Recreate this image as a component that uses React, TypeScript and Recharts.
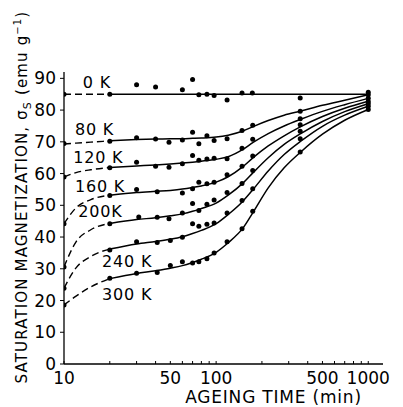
import React from 'react';
import { ComposedChart, Line, Scatter, XAxis, YAxis, ReferenceDot } from 'recharts';

// Time grid for the fitted curves (min)
const fitTimes = [10, 12, 15, 20, 30, 40, 50, 60, 70, 80, 100, 120, 150, 175, 220, 280, 360, 500, 700, 1000];

// Fitted curves (emu/g)
const fit0K = [85, 85, 85, 85, 85, 85, 85, 85, 85, 85, 85, 85, 85, 85, 85, 85, 85, 85, 85, 85];
const fit80K = [69.3, 69.6, 69.9, 70.3, 70.7, 70.9, 71.0, 71.0, 71.1, 71.2, 71.5, 72.1, 73.4, 74.8, 76.7, 78.4, 79.7, 81.5, 83.1, 84.8];
const fit120K = [58.9, 60.3, 61.2, 61.9, 62.4, 62.7, 63.0, 63.3, 63.6, 63.9, 64.5, 65.3, 67.6, 69.8, 72.6, 75.0, 77.1, 79.6, 81.7, 83.7];
const fit160K = [44.2, 49.2, 51.8, 53.2, 54.0, 54.4, 54.7, 55.1, 55.6, 56.1, 57.3, 59.0, 62.2, 65.0, 68.7, 71.9, 74.8, 78.0, 80.6, 82.8];
const fit200K = [30.6, 38.5, 42.3, 44.3, 45.5, 46.1, 46.7, 47.3, 48.1, 49.0, 50.7, 53.2, 57.0, 60.3, 65.0, 69.2, 72.6, 76.4, 79.5, 82.0];
const fit240K = [23.9, 30.3, 33.9, 36.2, 37.8, 38.6, 39.3, 40.1, 41.1, 42.1, 44.2, 47.1, 51.3, 55.0, 60.8, 66.0, 70.2, 74.9, 78.4, 81.2];
const fit300K = [18.6, 21.4, 24.3, 26.9, 28.5, 29.4, 30.2, 31.0, 32.0, 33.0, 35.2, 38.2, 42.8, 47.8, 55.5, 61.8, 66.8, 72.4, 76.8, 80.2];

// Measured points [time (min), sigma_s]
const pts0K: [number, number][] = [[10, 85], [20, 85], [30, 88], [40, 87.3], [60, 86.4], [70, 89.6], [77, 84.8], [87, 85], [97, 84.6], [118, 83.2], [148, 85.4], [173, 85.4], [357, 83.8], [1000, 85.6]];
const pts80K: [number, number][] = [[10, 69.5], [20, 70.2], [30, 71.3], [40, 70.9], [49, 69.9], [60, 70.6], [70, 73.0], [77, 69.4], [87, 71.9], [97, 70.4], [118, 71.0], [148, 73.6], [174, 75.2], [357, 79.6], [1000, 84.8]];
const pts120K: [number, number][] = [[10, 58.9], [20, 61.8], [30, 63.6], [40, 62.3], [49, 62.0], [60, 63.1], [70, 65.7], [77, 64.2], [87, 64.6], [97, 64.8], [118, 64.7], [148, 68.0], [174, 70.8], [357, 77.3], [1000, 83.7]];
const pts160K: [number, number][] = [[10, 44.2], [20, 53.1], [30, 55.0], [41, 54.3], [60, 53.9], [70, 55.2], [77, 57.3], [87, 56.8], [97, 57.3], [118, 59.6], [148, 62.3], [174, 65.5], [357, 75.4], [1000, 82.7]];
const pts200K: [number, number][] = [[10, 30.6], [20, 44.2], [31, 46.3], [41, 46.2], [49, 45.8], [60, 47.6], [70, 50.6], [77, 48.4], [87, 50.3], [97, 51.7], [118, 54.0], [148, 56.9], [174, 61.0], [357, 73.3], [1000, 82.0]];
const pts240K: [number, number][] = [[10, 23.9], [20, 35.9], [30, 38.5], [41, 38.3], [50, 38.9], [60, 39.9], [70, 44.2], [77, 43.4], [87, 44.0], [97, 44.4], [118, 47.6], [148, 51.5], [174, 55.2], [357, 71.0], [1000, 81.2]];
const pts300K: [number, number][] = [[10, 18.6], [20, 27.0], [30, 28.6], [41, 28.8], [50, 31.0], [60, 32.2], [70, 31.8], [77, 32.2], [87, 33.2], [97, 35.0], [118, 38.5], [148, 42.6], [174, 48.1], [357, 66.8], [1000, 80.2]];

// Curve names and their label anchors (data coordinates)
const curveNames = ['0 K', '80 K', '120 K', '160 K', '200K', '240 K', '300 K'];
const labelTimes = [13.3, 11.8, 11.5, 11.8, 12.4, 17.8, 17.8];
const labelValues = [87.1, 72.0, 63.2, 54.1, 46.2, 30.5, 20.1];

const xTicks = [10, 20, 30, 40, 50, 60, 70, 80, 90, 100, 200, 300, 400, 500, 600, 700, 800, 900, 1000];
const xTickLabels = [10, 50, 100, 500, 1000];
const yTicks = [0, 10, 20, 30, 40, 50, 60, 70, 80, 90];

const fits = [fit0K, fit80K, fit120K, fit160K, fit200K, fit240K, fit300K];
const points = [pts0K, pts80K, pts120K, pts160K, pts200K, pts240K, pts300K];

const DASH_END = 20;
const FONT = 'DejaVu Sans';

const toRows = (vals: number[], from: number, to: number) =>
  fitTimes.map((t, i) => ({ t, v: vals[i] })).filter((d) => d.t >= from && d.t <= to);

const Dot = (p: any) => <circle cx={p.cx} cy={p.cy} r={2.5} fill="#000" />;

const YLabel = (props: any) => {
  const vb = props.viewBox || { x: 0, y: 0, width: 0, height: 0 };
  const cx = vb.x + 19;
  const cy = vb.y + vb.height / 2 - 21;
  return (
    <text transform={`translate(${cx},${cy}) rotate(-90)`} textAnchor="middle" fontFamily={FONT} fontSize={15} letterSpacing={1.15} fill="#000">
      <tspan>SATURATION MAGNETIZATION, σ</tspan>
      <tspan fontSize={11} dy={4}>S</tspan>
      <tspan dy={-4}> (emu g</tspan>
      <tspan fontSize={10} dy={-6}>−1</tspan>
      <tspan dy={6}>)</tspan>
    </text>
  );
};

export default function App() {
  return (
    <ComposedChart width={395} height={399} margin={{ top: 64, right: 20, bottom: 0, left: 0 }}>
      <XAxis
        dataKey="t"
        type="number"
        scale="log"
        domain={[10, 1250]}
        allowDataOverflow
        ticks={xTicks}
        tickFormatter={(v: number) => (xTickLabels.includes(v) ? String(v) : '')}
        tickSize={-3}
        tickMargin={11}
        height={43}
        axisLine={{ stroke: '#000', strokeWidth: 1.3 }}
        tickLine={{ stroke: '#000', strokeWidth: 1 }}
        tick={{ fill: '#000', fontFamily: FONT, fontSize: 17 }}
        interval={0}
        label={{ value: 'AGEING TIME (min)', position: 'insideBottom', offset: 4, dx: 50, fill: '#000', fontFamily: FONT, fontSize: 17, letterSpacing: 0.8 }}
      />
      <YAxis
        type="number"
        domain={[0, 92]}
        ticks={yTicks}
        width={56}
        tickSize={4}
        tickMargin={4}
        interval={0}
        axisLine={{ stroke: '#000', strokeWidth: 1.3 }}
        tickLine={{ stroke: '#000', strokeWidth: 1 }}
        tick={{ fill: '#000', fontFamily: FONT, fontSize: 17 }}
        label={<YLabel />}
      />
      {fits.map((f, i) => (
        <Line
          key={`d${i}`}
          data={toRows(f, 10, DASH_END)}
          dataKey="v"
          type="monotone"
          stroke="#000"
          strokeWidth={1.4}
          strokeDasharray="7 4"
          dot={false}
          activeDot={false}
          isAnimationActive={false}
        />
      ))}
      {fits.map((f, i) => (
        <Line
          key={`s${i}`}
          data={toRows(f, DASH_END, 1000)}
          dataKey="v"
          type="monotone"
          stroke="#000"
          strokeWidth={1.5}
          dot={false}
          activeDot={false}
          isAnimationActive={false}
        />
      ))}
      {points.map((p, i) => (
        <Scatter
          key={`p${i}`}
          data={p.map(([t, v]) => ({ t, v }))}
          dataKey="v"
          shape={Dot}
          isAnimationActive={false}
        />
      ))}
      {curveNames.map((n, i) => (
        <ReferenceDot
          key={`l${i}`}
          x={labelTimes[i]}
          y={labelValues[i]}
          r={0}
          shape={(p: any) => (
            <text x={p.cx} y={p.cy} fontFamily={FONT} fontSize={16} letterSpacing={0.8} fill="#000">
              {n}
            </text>
          )}
        />
      ))}
    </ComposedChart>
  );
}
